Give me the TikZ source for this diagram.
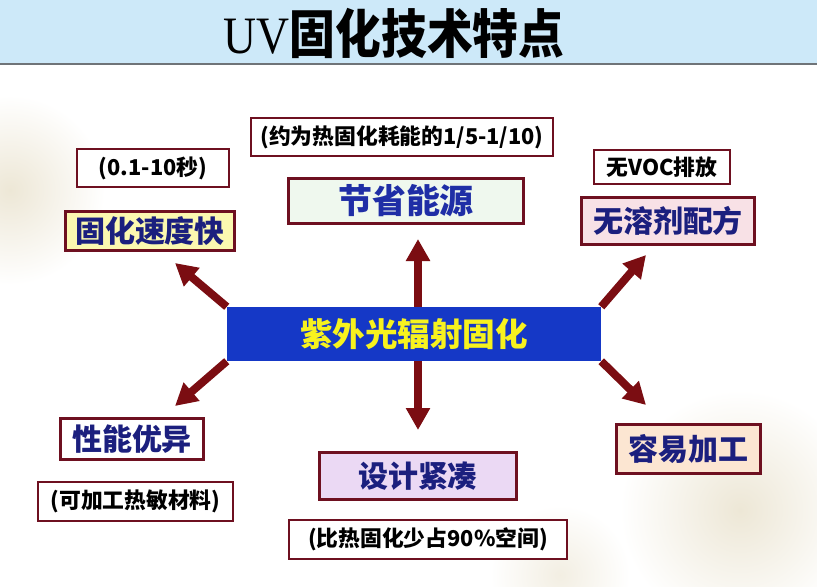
\documentclass[tikz,border=0pt]{standalone}
\usepackage{fontspec}
\setmainfont{Liberation Serif}
\newfontfamily\cjk{Noto Sans CJK SC}
\newfontfamily\titlelat{Liberation Serif}
\usetikzlibrary{arrows.meta,backgrounds}
\definecolor{uvBand}{HTML}{CDE9F9}
\definecolor{uvRule}{HTML}{6F7478}
\definecolor{uvFrame}{HTML}{6E1020}
\definecolor{uvArrow}{HTML}{7B0D12}
\definecolor{uvHub}{HTML}{1538C6}
\definecolor{uvHubText}{HTML}{F7F21E}
\definecolor{uvNavy}{HTML}{1B1F7E}
\definecolor{uvBlue}{HTML}{1F2EA6}
\definecolor{uvYellow}{HTML}{FBF8B0}
\definecolor{uvGreen}{HTML}{EFF8EE}
\definecolor{uvPink}{HTML}{F8E1E6}
\definecolor{uvPeach}{HTML}{FCE6D2}
\definecolor{uvLilac}{HTML}{EBD9F4}
\definecolor{uvBeige}{HTML}{EDE7D6}
\tikzset{
  feature/.style={
    rectangle,
    draw=uvFrame,
    line width=2.4pt,
    inner sep=0pt,
    align=center,
    text=uvNavy,
    font=\cjk\bfseries\fontsize{25.6}{28}\selectfont
  },
  note/.style={
    rectangle,
    draw=uvFrame,
    line width=1.9pt,
    fill=white,
    inner sep=0pt,
    align=center,
    text=black,
    font=\cjk\bfseries\fontsize{18.6}{22}\selectfont
  },
  hub/.style={
    rectangle,
    fill=uvHub,
    inner sep=0pt,
    text=uvHubText,
    font=\cjk\bfseries\fontsize{27.8}{30}\selectfont
  },
  arrow/.style={-{Triangle[length=6.6mm, width=6.9mm]}, line width=6.8pt, draw=uvArrow}
}

\begin{document}
\begin{tikzpicture}[x=0.03cm, y=-0.03cm]
  \useasboundingbox (0,0) rectangle (817,586);

  % arrow ends
  \coordinate (upTip) at (418,239);
  \coordinate (downTip) at (418,430);
  \coordinate (ulTip) at (175,263);
  \coordinate (llTip) at (175,406);
  \coordinate (urTip) at (646,255);
  \coordinate (lrTip) at (646,405);

  \node[hub, minimum width=11.22cm, minimum height=1.62cm] (hub) at (414,334) {紫外光辐射固化};

  \begin{scope}[on background layer]
    % faint background
    \shade[inner color=uvBeige, outer color=white] (10,190) circle (95);
    \shade[inner color=uvBeige, outer color=white] (740,510) circle (120);
    \shade[inner color=uvBeige!70, outer color=white] (560,575) circle (70);
    % title band
    \fill[uvBand] (0,0) rectangle (817,64);
    \draw[uvRule, line width=1.2pt] (0,64) -- (817,64);
    % arrows out of the hub
    \draw[arrow] (upTip |- hub.north) -- (upTip);
    \draw[arrow] (downTip |- hub.south) -- (downTip);
    \draw[arrow] (hub.north west) -- (ulTip);
    \draw[arrow] (hub.south west) -- (llTip);
    \draw[arrow] (hub.north east) -- (urTip);
    \draw[arrow] (hub.south east) -- (lrTip);
  \end{scope}

  \node (title) at (394,33) {\fontsize{39}{42}\selectfont\scalebox{1}[1.15]{{\titlelat UV}{\cjk\bfseries 固化技术特点}}};

  % features
  \node[feature, fill=uvYellow, minimum width=5.08cm, minimum height=1.18cm] (speed) at (150,231) {固化速度快};
  \node[feature, fill=uvGreen, text=uvBlue, font=\cjk\bfseries\fontsize{29}{32}\selectfont, minimum width=7.06cm, minimum height=1.36cm] (energy) at (406,201) {节省能源};
  \node[feature, fill=uvPink, minimum width=5.2cm, minimum height=1.42cm] (solvent) at (668,221) {无溶剂配方};
  \node[feature, fill=white, minimum width=4.3cm, minimum height=1.24cm] (perf) at (132,439) {性能优异};
  \node[feature, fill=uvLilac, minimum width=5.92cm, minimum height=1.42cm] (compact) at (418,476) {设计紧凑};
  \node[feature, fill=uvPeach, minimum width=4.33cm, minimum height=1.48cm] (easy) at (688.5,449) {容易加工};

  % notes
  \node[note, minimum width=4.55cm, minimum height=1.14cm] (speedNote) at (153,168) {(0.1-10秒)};
  \node[note, minimum width=9.05cm, minimum height=1.16cm] (energyNote) at (402,137) {(约为热固化耗能的1/5-1/10)};
  \node[note, minimum width=4.1cm, minimum height=1.04cm] (solventNote) at (662,167) {无VOC排放};
  \node[note, minimum width=5.84cm, minimum height=1.16cm] (perfNote) at (135.5,501.5) {(可加工热敏材料)};
  \node[note, minimum width=8.33cm, minimum height=1.16cm] (compactNote) at (428,539.5) {(比热固化少占90\%空间)};
\end{tikzpicture}
\end{document}
